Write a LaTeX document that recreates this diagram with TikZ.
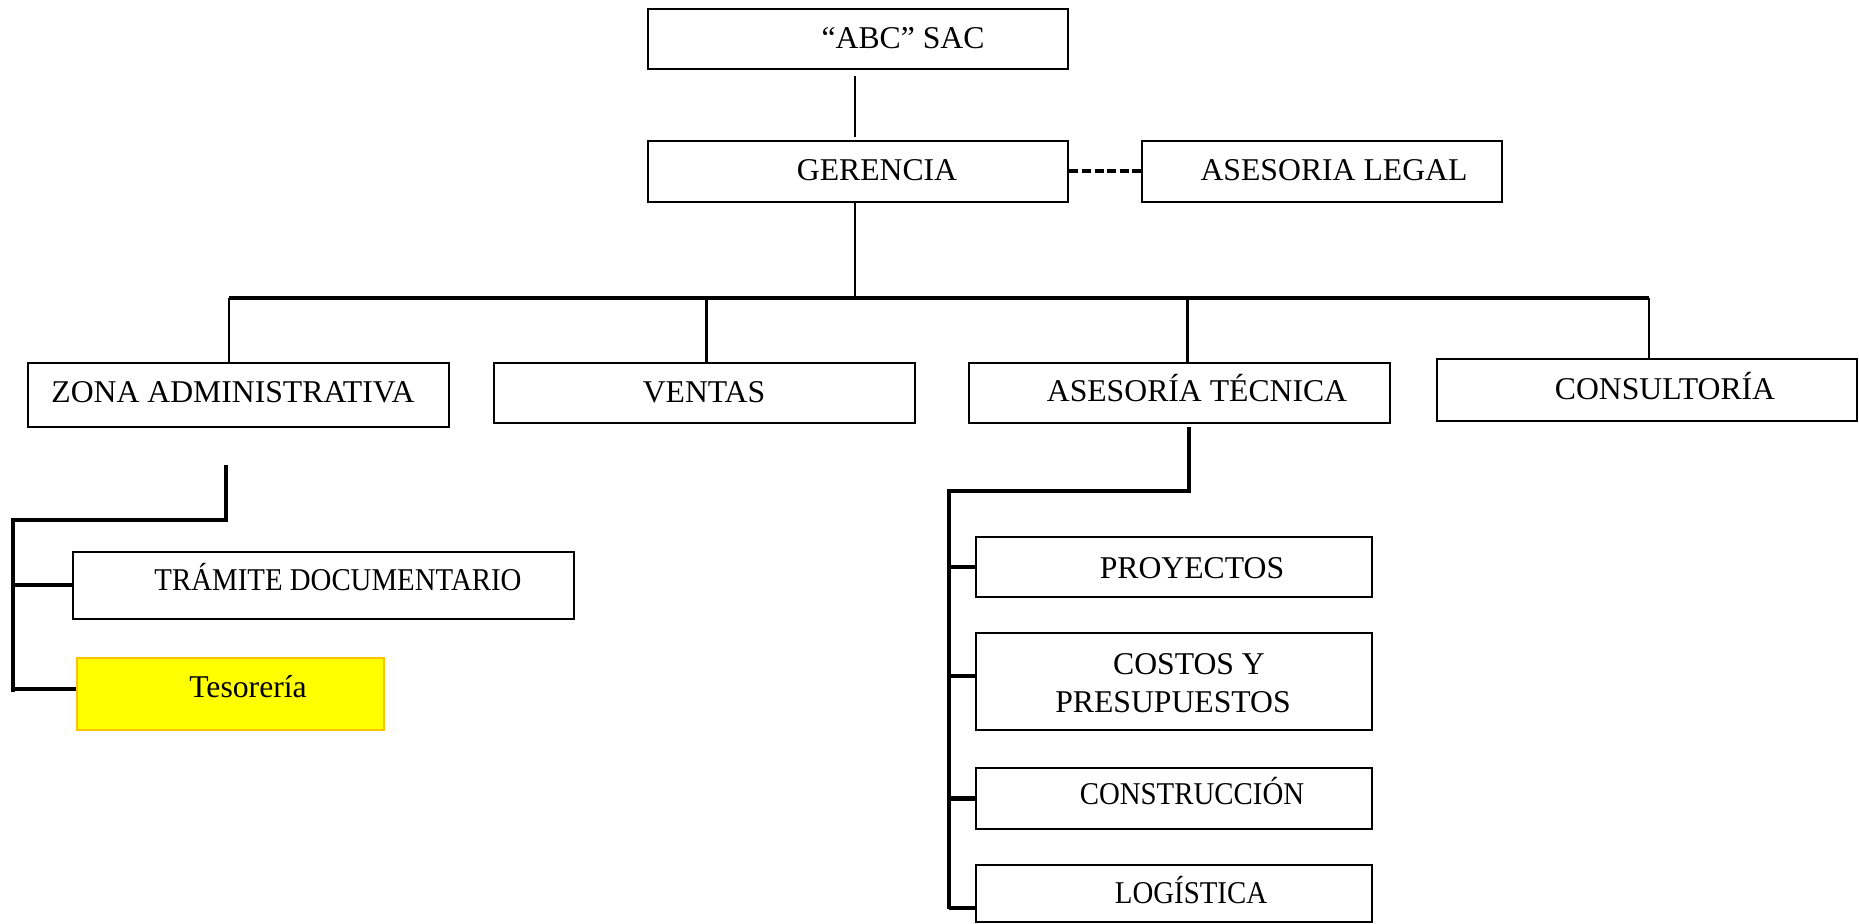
\documentclass[tikz,border=0pt]{standalone}
\usepackage{fontspec}
\setmainfont{Liberation Serif}
\newfontfamily\narrowserif[FakeStretch=0.91]{Liberation Serif}
\usetikzlibrary{fit}
\definecolor{tesfill}{HTML}{FFFF00}
\definecolor{tesedge}{HTML}{FFC000}
\begin{document}
\begin{tikzpicture}[x=0.5pt,y=-0.5pt,
  box/.style={draw=black, line width=1.4pt, inner sep=0pt, fill=white},
  hilite/.style={draw=tesedge, line width=1.3pt, inner sep=0pt, fill=tesfill},
  lbl/.style={anchor=base, inner sep=0pt, font=\fontsize{15.85pt}{20.5pt}\selectfont},
  narrow/.style={font=\fontsize{15.85pt}{20.5pt}\narrowserif},
  link/.style={line width=1.35pt},
  trunk/.style={line width=2pt},
  dashlink/.style={line width=2pt, dash pattern=on 4.5pt off 1.8pt}]
\useasboundingbox (0,0) rectangle (1859,924);

% --- boxes ---
\node[box, fit={(648,9) (1068,69)}] (abc) {};
\node[box, fit={(648,141) (1068,202)}] (ger) {};
\node[box, fit={(1142,141) (1502,202)}] (leg) {};
\node[box, fit={(28,363) (449,427)}] (zona) {};
\node[box, fit={(494,363) (915,423)}] (ven) {};
\node[box, fit={(969,363) (1390,423)}] (tec) {};
\node[box, fit={(1437,359) (1857,421)}] (con) {};
\node[box, fit={(73,552) (574,619)}] (tra) {};
\node[hilite, fit={(77,658) (384,730)}] (tes) {};
\node[box, fit={(976,537) (1372,597)}] (pro) {};
\node[box, fit={(976,633) (1372,730)}] (cos) {};
\node[box, fit={(976,768) (1372,829)}] (cns) {};
\node[box, fit={(976,865) (1372,922)}] (log) {};

% --- labels ---
\node[lbl] (abc-t) at (903,49) {“ABC” SAC};
\node[lbl] (ger-t) at (877,181) {GERENCIA};
\node[lbl] (leg-t) at (1334,181) {ASESORIA LEGAL};
\node[lbl] (zona-t) at (233,403) {ZONA ADMINISTRATIVA};
\node[lbl] (ven-t) at (704,403) {VENTAS};
\node[lbl] (tec-t) at (1197,402) {ASESORÍA TÉCNICA};
\node[lbl] (con-t) at (1665,400) {CONSULTORÍA};
\node[lbl, narrow] (tra-t) at (338,591) {TRÁMITE DOCUMENTARIO};
\node[lbl] (tes-t) at (248,698) {Tesorería};
\node[lbl] (pro-t) at (1192,579) {PROYECTOS};
\node[lbl] (cos-t1) at (1189,675) {COSTOS Y};
\node[lbl] (cos-t2) at (1173,713) {PRESUPUESTOS};
\node[lbl, narrow] (cns-t) at (1192,805) {CONSTRUCCIÓN};
\node[lbl, narrow] (log-t) at (1191,903) {LOGÍSTICA};

% --- top connectors ---
\draw[link, shorten <=3pt, shorten >=1.5pt] ([xshift=-1.5pt]abc.south) -- ([xshift=-1.5pt]ger.north);
\draw[dashlink] (ger.east) -- (leg.west);

\coordinate (busL) at (229,298);
\coordinate (busR) at (1649,298);
\draw[link] ([xshift=-1.5pt]ger.south) -- ([xshift=-1.5pt]ger.south |- busL);
\draw[trunk] (busL) -- (busR);
\draw[link] (busL) -- (busL |- zona.north);
\draw[link] ([xshift=1pt]ven.north) -- ([xshift=1pt]ven.north |- busL);
\draw[link] ([xshift=4pt]tec.north) -- ([xshift=4pt]tec.north |- busL);
\draw[link] (busR) -- (busR |- con.north);

% --- administrative branch ---
\coordinate (zTop) at (226,465);
\coordinate (zElbow) at (226,520);
\coordinate (zSpine) at (13,520);
\coordinate (zEnd) at (13,692);
\draw[trunk] (zTop) -- (zElbow) -- (zSpine) -- (zEnd);
\draw[trunk] (tra.west) -- (tra.west -| zSpine);
\draw[trunk] ([yshift=2.5pt]tes.west) -- ([yshift=2.5pt]tes.west -| zSpine);

% --- technical branch ---
\coordinate (tTop) at (1189,427);
\coordinate (tElbow) at (1189,491);
\coordinate (tSpine) at (949,491);
\coordinate (tEnd) at (949,909);
\draw[trunk] (tTop) -- (tElbow) -- (tSpine) -- (tEnd);
\draw[trunk] (pro.west) -- (pro.west -| tSpine);
\draw[trunk] ([yshift=2.75pt]cos.west) -- ([yshift=2.75pt]cos.west -| tSpine);
\draw[trunk] (cns.west) -- (cns.west -| tSpine);
\draw[trunk] ([yshift=-7pt]log.west) -- ([yshift=-7pt]log.west -| tSpine);
\end{tikzpicture}
\end{document}
